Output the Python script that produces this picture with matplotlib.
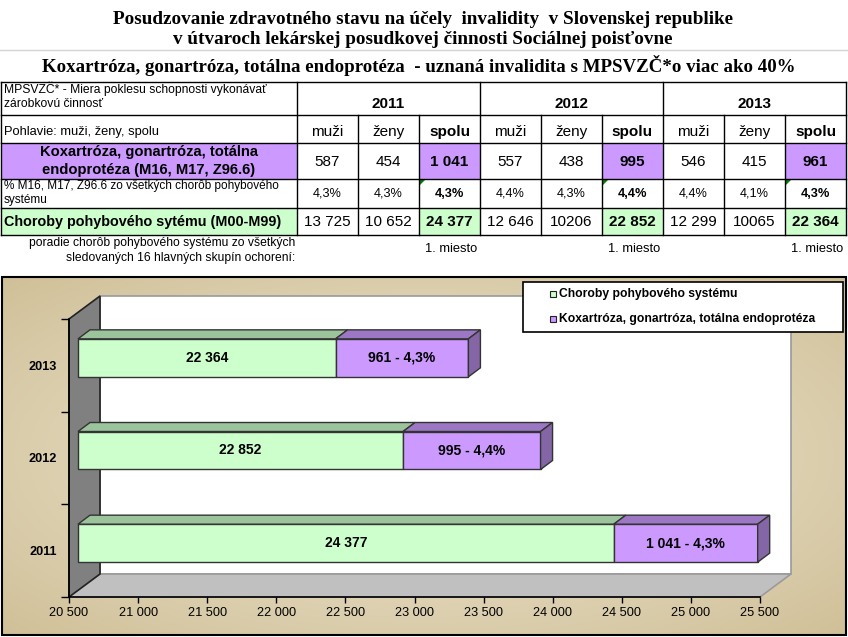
import numpy as np
import matplotlib
matplotlib.use('Agg')
import matplotlib.pyplot as plt
from matplotlib.patches import Rectangle, Polygon
from matplotlib.transforms import ScaledTranslation, IdentityTransform
from matplotlib.ticker import FuncFormatter

# data
years = ['2011', '2012', '2013']
kox_muzi = [587, 557, 546]
kox_zeny = [454, 438, 415]
kox_spolu = [1041, 995, 961]
pct_muzi = [4.3, 4.4, 4.4]
pct_zeny = [4.3, 4.3, 4.1]
pct_spolu = [4.3, 4.4, 4.3]
mps_muzi = [13725, 12646, 12299]
mps_zeny = [10652, 10206, 10065]
mps_zeny_grouped = [True, False, False]   # the sheet shows "10206" without a space
mps_spolu = [24377, 22852, 22364]
poradie = [1, 1, 1]
x_min, x_max, x_step = 20500, 25500, 500

PURPLE = '#CC99FF'
GREEN = '#CCFFCC'

plt.rcParams['font.family'] = ['Liberation Sans', 'DejaVu Sans']


def sk(n, group=True):
    """Slovak style number: space as thousands separator."""
    return f'{int(n):,}'.replace(',', ' ') if group else str(int(n))


def pct(p):
    return f'{p:.1f}%'.replace('.', ',')


fig = plt.figure(figsize=(8.48, 6.37), dpi=100)

# background layer in pixel coordinates (y down)
bg = fig.add_axes([0, 0, 1, 1])
bg.axis('off')

# beige gradient of the chart area
gy, gx = np.mgrid[-1:1:200j, -1:1:300j]
r = np.clip(np.sqrt(gx**2 + gy**2) / np.sqrt(2), 0, 1)
edge = np.array([208, 192, 152]) / 255
center = np.array([236, 228, 206]) / 255
grad = center + (edge - center) * r[..., None] ** 1.2
bg.imshow(grad, extent=[2, 846, 635, 277], aspect='auto', interpolation='bilinear', zorder=0)
bg.set_xlim(0, 848)
bg.set_ylim(637, 0)

# sheet gridline under the titles
bg.plot([0, 848], [50, 50], color='#D4D4D4', lw=1)

# titles
serif = dict(family=['Liberation Serif', 'DejaVu Serif'], weight='bold', ha='center', va='center')
bg.text(423, 20, 'Posudzovanie zdravotného stavu na účely  invalidity  v Slovenskej republike', size=13.8, **serif)
bg.text(423, 40, 'v útvaroch lekárskej posudkovej činnosti Sociálnej poisťovne', size=13.8, **serif)
bg.text(419, 66, 'Koxartróza, gonartróza, totálna endoprotéza  - uznaná invalidita s MPSVZČ*o viac ako 40%',
        size=13.6, **serif)

# ---- table ----
col_x = [1, 297, 358, 419, 480, 541, 602, 663, 724, 785, 846]
row_y = [82, 115, 143, 179, 208, 235]

# fills
bg.add_patch(Rectangle((col_x[0], row_y[2]), col_x[1] - col_x[0], row_y[3] - row_y[2], color=PURPLE, lw=0))
bg.add_patch(Rectangle((col_x[0], row_y[4]), col_x[1] - col_x[0], row_y[5] - row_y[4], color=GREEN, lw=0))
for k in range(3):
    c = 1 + 3 * k + 2
    bg.add_patch(Rectangle((col_x[c], row_y[2]), col_x[c + 1] - col_x[c], row_y[3] - row_y[2], color=PURPLE, lw=0))
    bg.add_patch(Rectangle((col_x[c], row_y[4]), col_x[c + 1] - col_x[c], row_y[5] - row_y[4], color=GREEN, lw=0))
    # comment marker
    bg.add_patch(Polygon([(col_x[c] + 1, row_y[3] + 1), (col_x[c] + 6, row_y[3] + 1), (col_x[c] + 1, row_y[3] + 6)],
                         color='#008000', lw=0))

# grid lines
for y in row_y:
    bg.plot([col_x[0], col_x[-1]], [y, y], color='black', lw=1)
for i, x in enumerate(col_x):
    top = row_y[0] if i in (0, 1, 4, 7, 10) else row_y[1]
    bg.plot([x, x], [top, row_y[-1]], color='black', lw=1)

small = dict(size=8.7, va='center')
bg.text(4, 89, 'MPSVZČ* - Miera poklesu schopnosti vykonávať', **small)
bg.text(4, 104, 'zárobkovú činnosť', **small)
bg.text(4, 132, 'Pohlavie: muži, ženy, spolu', size=9.3, va='center')
bg.text(149, 152, 'Koxartróza, gonartróza, totálna', size=10.6, weight='bold', ha='center', va='center')
bg.text(149, 170, 'endoprotéza (M16, M17, Z96.6)', size=10.6, weight='bold', ha='center', va='center')
bg.text(4, 186, '% M16, M17, Z96.6 zo všetkých chorôb pohybového', size=8.5, va='center')
bg.text(4, 200, 'systému', size=8.5, va='center')
bg.text(4, 222, 'Choroby pohybového sytému (M00-M99)', size=10.35, weight='bold', va='center')
bg.text(295, 243, 'poradie chorôb pohybového systému zo všetkých', ha='right', **small)
bg.text(295, 258, 'sledovaných 16 hlavných skupín ochorení:', ha='right', **small)

for k, yr in enumerate(years):
    c0 = 1 + 3 * k
    xc = [(col_x[c0 + j] + col_x[c0 + j + 1]) / 2 for j in range(3)]
    bg.text((col_x[c0] + col_x[c0 + 3]) / 2, 104, yr, size=11, weight='bold', ha='center', va='center')
    for j, (lab, w) in enumerate([('muži', 'normal'), ('ženy', 'normal'), ('spolu', 'bold')]):
        bg.text(xc[j], 132, lab, size=11, weight=w, ha='center', va='center')
    bg.text(xc[0], 162, sk(kox_muzi[k]), size=11, ha='center', va='center')
    bg.text(xc[1], 162, sk(kox_zeny[k]), size=11, ha='center', va='center')
    bg.text(xc[2], 162, sk(kox_spolu[k]), size=11, weight='bold', ha='center', va='center')
    bg.text(xc[0], 194, pct(pct_muzi[k]), size=9.2, ha='center', va='center')
    bg.text(xc[1], 194, pct(pct_zeny[k]), size=9.2, ha='center', va='center')
    bg.text(xc[2], 194, pct(pct_spolu[k]), size=9.2, weight='bold', ha='center', va='center')
    bg.text(xc[0], 222, sk(mps_muzi[k]), size=11, ha='center', va='center')
    bg.text(xc[1], 222, sk(mps_zeny[k], mps_zeny_grouped[k]), size=11, ha='center', va='center')
    bg.text(xc[2], 222, sk(mps_spolu[k]), size=11, weight='bold', ha='center', va='center')
    bg.text(col_x[c0 + 3] - 3, 249, f'{poradie[k]}. miesto', size=9.3, ha='right', va='center')

# ---- 3D-looking bar chart ----
ax = fig.add_axes([69 / 848, 40 / 637, 691 / 848, 278 / 637])
ax.set_xlim(x_min, x_max)
ax.set_ylim(-0.5, 2.5)
ax.patch.set_visible(False)
ypos = np.arange(len(years))


def shifted(dx, dy):
    return ax.transData + ScaledTranslation(dx / 100, dy / 100, fig.dpi_scale_trans)


# walls and floor
D = np.array([31, 23])
bl, br, tl, tr = ax.transData.transform([(x_min, -0.5), (x_max, -0.5), (x_min, 2.5), (x_max, 2.5)])
walls = [
    ([bl + D, br + D, tr + D, tl + D], 'white', '#9A9A9A'),
    ([bl, br, br + D, bl + D], '#C0C0C0', '#9A9A9A'),
    ([bl, tl, tl + D, bl + D], '#808080', '#222222'),
]
for pts, fc, ec in walls:
    ax.add_patch(Polygon(pts, closed=True, facecolor=fc, edgecolor=ec, lw=1.2,
                         transform=IdentityTransform(), clip_on=False, zorder=0.5))

bar_tr = shifted(9, 7.5)
h = 0.41
green = ax.barh(ypos, np.array(mps_spolu) - x_min, left=x_min, height=h, color=GREEN,
                edgecolor='#333333', lw=1, transform=bar_tr, zorder=3, clip_on=False)
purple = ax.barh(ypos, kox_spolu, left=mps_spolu, height=h, color=PURPLE,
                 edgecolor='#333333', lw=1, transform=bar_tr, zorder=3, clip_on=False)

d = np.array([12, 9])
for bars, top_c, side_c in [(green, '#9CC49C', None), (purple, '#9C78C4', '#8466A6')]:
    for rect in bars:
        x0, y0 = rect.get_x(), rect.get_y()
        x1, y1 = x0 + rect.get_width(), y0 + rect.get_height()
        p00, p10, p11, p01 = bar_tr.transform([(x0, y0), (x1, y0), (x1, y1), (x0, y1)])
        ax.add_patch(Polygon([p01, p11, p11 + d, p01 + d], facecolor=top_c, edgecolor='#333333', lw=1,
                             transform=IdentityTransform(), clip_on=False, zorder=3))
        if side_c:
            ax.add_patch(Polygon([p10, p11, p11 + d, p10 + d], facecolor=side_c, edgecolor='#333333', lw=1,
                                 transform=IdentityTransform(), clip_on=False, zorder=3))

for k in range(len(years)):
    ax.text((x_min + mps_spolu[k]) / 2, ypos[k], sk(mps_spolu[k]), transform=bar_tr,
            ha='center', va='center', size=10, weight='bold', zorder=4)
    ax.text(mps_spolu[k] + kox_spolu[k] / 2, ypos[k], f'{sk(kox_spolu[k])} - {pct(pct_spolu[k])}',
            transform=bar_tr, ha='center', va='center', size=10, weight='bold', zorder=4)

for s in ('top', 'right'):
    ax.spines[s].set_visible(False)
for s in ('bottom', 'left'):
    ax.spines[s].set_color('black')
    ax.spines[s].set_linewidth(1.2)
ax.set_xticks(np.arange(x_min, x_max + 1, x_step))
ax.xaxis.set_major_formatter(FuncFormatter(lambda v, _: sk(v)))
ax.tick_params(axis='x', length=4, width=1, pad=3, labelsize=9.2)
ax.set_yticks(np.arange(-0.5, len(years), 1.0))
ax.set_yticklabels([])
ax.tick_params(axis='y', which='major', length=6, width=1)
ax.set_yticks(ypos, minor=True)
ax.set_yticklabels(years, minor=True, fontweight='bold', fontsize=9.2)
ax.tick_params(axis='y', which='minor', length=0, pad=8.5)

# legend box
T = bg.transData
fig.add_artist(Rectangle((523, 282), 320, 50, facecolor='white', edgecolor='black', lw=1.2, transform=T, zorder=5))
for yy, col, lab in [(294, GREEN, 'Choroby pohybového systému'),
                     (319, PURPLE, 'Koxartróza, gonartróza, totálna endoprotéza')]:
    fig.add_artist(Rectangle((550, yy - 3), 6, 6, facecolor=col, edgecolor='#222222', lw=0.8, transform=T, zorder=6))
    fig.text(559, yy, lab, transform=T, size=8.7, weight='bold', va='center', zorder=6)

# chart frame
fig.add_artist(Rectangle((2, 277), 844, 358, fill=False, edgecolor='black', lw=1.5, transform=T, zorder=7))

fig.savefig('out.png', dpi=100)
